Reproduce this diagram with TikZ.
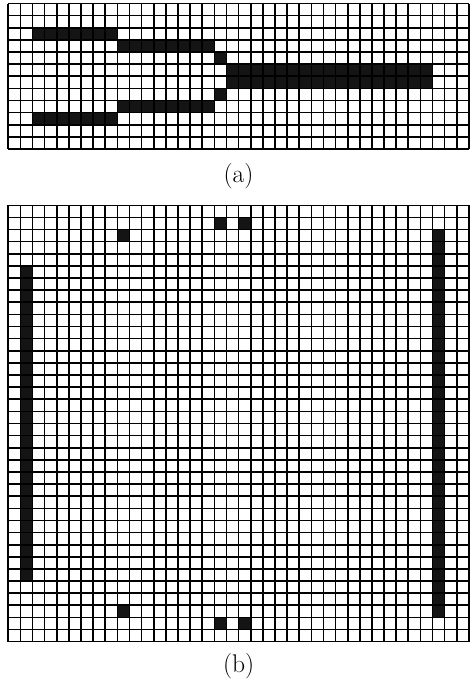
\documentclass[tikz,border=0pt]{standalone}
\usepackage{tikz}
\usetikzlibrary{positioning}
\begin{document}
\begin{tikzpicture}[
    x=0.3cm, y=0.3cm,
    cellgrid/.style={draw=black, line width=1.15pt, step={(1,1)}},
    blackcell/.style={fill=black!92},
    caption/.style={font=\fontsize{18}{20}\selectfont, inner sep=0pt}
]
\useasboundingbox (-0.685,-3.41) rectangle (38.107,52.94);

% Pattern (a)
\begin{scope}[shift={(0,40.65)}]
    \fill[blackcell] (2,9) rectangle (9,10);
    \fill[blackcell] (9,8) rectangle (17,9);
    \fill[blackcell] (17,7) rectangle (18,8);
    \fill[blackcell] (18,5) rectangle (35,7);
    \fill[blackcell] (17,4) rectangle (18,5);
    \fill[blackcell] (9,3) rectangle (17,4);
    \fill[blackcell] (2,2) rectangle (9,3);
    \draw[cellgrid] (0,0) grid (38,12);
\end{scope}
\node[caption] (capa) at (19,38.42) {(a)};

% Pattern (b)
\foreach \y in {1,34} {
    \fill[blackcell] (17,\y) rectangle (18,\y+1);
    \fill[blackcell] (19,\y) rectangle (20,\y+1);
}
\foreach \y in {2,33} {
    \fill[blackcell] (9,\y) rectangle (10,\y+1);
}
\fill[blackcell] (1,5) rectangle (2,31);
\fill[blackcell] (35,2) rectangle (36,34);
\draw[cellgrid] (0,0) grid (38,36);
\node[caption] (capb) at (19,-2.03) {(b)};

\end{tikzpicture}
\end{document}
